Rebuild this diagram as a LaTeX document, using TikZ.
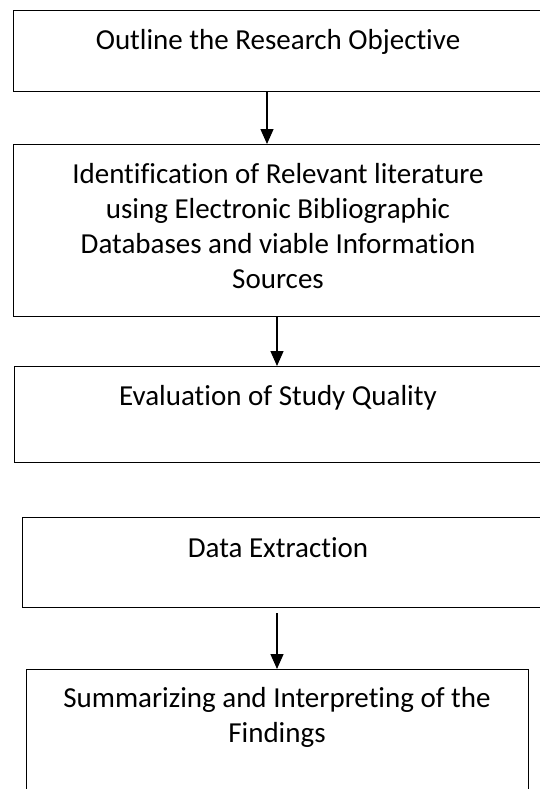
\documentclass[tikz,border=0pt]{standalone}
\usepackage{fontspec}
\setmainfont{Carlito}[Ligatures=NoCommon]
\usetikzlibrary{arrows.meta}
\tikzset{
    stepbox/.style={rectangle, draw=black, line width=1.4pt, anchor=north west, inner sep=0pt},
    steptext/.style={inner sep=0pt, align=center, anchor=base, font=\fontsize{29}{35}\selectfont},
    flow/.style={line width=1.4pt, -{Triangle[length=15pt, width=13pt]}},
}

\begin{document}
\begin{tikzpicture}[x=1pt, y=-1pt]
        \useasboundingbox (0,0) rectangle (540,789);
        \node[stepbox, minimum width=532pt, minimum height=81pt] (objective) at (13,10) {};
        \node[stepbox, minimum width=532pt, minimum height=172pt] (search) at (13,144) {};
        \node[stepbox, minimum width=531pt, minimum height=96pt] (quality) at (14,366) {};
        \node[stepbox, minimum width=525pt, minimum height=90pt] (extraction) at (22,517) {};
        \node[stepbox, minimum width=502pt, minimum height=140pt] (findings) at (26,669) {};
        % base anchor of a multi-line node sits on its last line
        \node[steptext] (objectivetext) at (278,50) {Outline the Research Objective};
        \node[steptext] (searchtext) at (278,288) {Identification of Relevant literature\\using Electronic Bibliographic\\Databases and viable Information\\Sources};
        \node[steptext] (qualitytext) at (278,405) {Evaluation of Study Quality};
        \node[steptext] (extractiontext) at (278,557) {Data Extraction};
        \node[steptext] (findingstext) at (277,742) {Summarizing and Interpreting of the\\Findings};
        \draw[flow] (267,0 |- objective.south) -- (267,0 |- search.north);
        \draw[flow] (277,0 |- search.south) -- (277,0 |- quality.north);
        \draw[flow, shorten <=5pt] (277,0 |- extraction.south) -- (277,0 |- findings.north);
    \end{tikzpicture}
\end{document}
